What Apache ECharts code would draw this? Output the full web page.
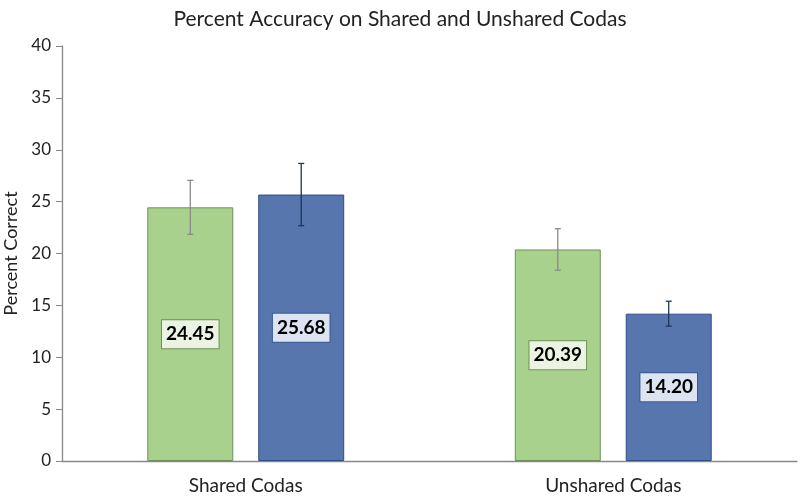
<!DOCTYPE html>
<html><head><meta charset="utf-8">
<script src="https://cdn.jsdelivr.net/npm/echarts@6/dist/echarts.min.js"></script>
<style>html,body{margin:0;padding:0;background:#fff}#c{width:800px;height:501px}</style>
</head><body><div id="c"></div>
<script>
const categories = ['Shared Codas', 'Unshared Codas'];
const greenValues = [24.45, 20.39];
const blueValues = [25.68, 14.20];
const greenErr = [2.6, 2.0];
const blueErr = [3.0, 1.2];
const yTicks = [0, 5, 10, 15, 20, 25, 30, 35, 40];

const FONT = 'Lato';
const BW = 0.234, GAP = 0.29;

function errSeries(vals, errs, sign, color) {
  return {
    type: 'custom',
    z: 5,
    data: vals.map((v, i) => [i, v - errs[i], v + errs[i]]),
    renderItem: function (params, api) {
      const band = api.size([1, 0])[0];
      const off = sign * band * BW * (1 + GAP) / 2;
      const lo = api.coord([api.value(0), api.value(1)]);
      const hi = api.coord([api.value(0), api.value(2)]);
      const x = lo[0] + off;
      const cw = 3;
      const st = { stroke: color, lineWidth: 1.3 };
      return {
        type: 'group',
        children: [
          { type: 'line', shape: { x1: x, y1: lo[1], x2: x, y2: hi[1] }, style: st },
          { type: 'line', shape: { x1: x - cw, y1: lo[1], x2: x + cw, y2: lo[1] }, style: st },
          { type: 'line', shape: { x1: x - cw, y1: hi[1], x2: x + cw, y2: hi[1] }, style: st }
        ]
      };
    }
  };
}

function barLabel(bg, border) {
  return {
    show: true, position: 'inside',
    formatter: p => p.value.toFixed(2),
    fontFamily: FONT, fontWeight: 'bold', fontSize: 19, color: '#000',
    backgroundColor: bg, borderColor: border, borderWidth: 1,
    padding: [5, 4, 4, 4]
  };
}

const chart = echarts.init(document.getElementById('c'));
chart.setOption({
  animation: false,
  title: {
    text: 'Percent Accuracy on Shared and Unshared Codas',
    left: 'center', top: 4,
    textStyle: { fontFamily: FONT, fontWeight: 'normal', fontSize: 21, color: '#222' }
  },
  grid: { left: 62, right: 3, top: 46, bottom: 40, containLabel: false, outerBoundsMode: 'none' },
  xAxis: {
    type: 'category', data: categories,
    axisLine: { lineStyle: { color: '#888', width: 1.3 } },
    axisTick: { show: false },
    axisLabel: { fontFamily: FONT, fontSize: 19, color: '#222', margin: 15 }
  },
  yAxis: {
    type: 'value', min: yTicks[0], max: yTicks[yTicks.length - 1], interval: 5,
    name: 'Percent Correct', nameLocation: 'middle', nameGap: 41,
    nameTextStyle: { fontFamily: FONT, fontSize: 18, color: '#222' },
    axisLine: { show: true, lineStyle: { color: '#888', width: 1.3 } },
    axisTick: { show: true, length: 6, lineStyle: { color: '#888' } },
    splitLine: { show: false },
    axisLabel: { fontFamily: FONT, fontSize: 17, color: '#222', margin: 11 }
  },
  series: [
    {
      type: 'bar', data: greenValues, barWidth: (BW * 100) + '%', barGap: (GAP * 100) + '%',
      itemStyle: { color: '#a9d18e', borderColor: '#6f9158', borderWidth: 1 },
      label: barLabel('#ebf4e3', '#6f9158')
    },
    {
      type: 'bar', data: blueValues, barWidth: (BW * 100) + '%',
      itemStyle: { color: '#5876ae', borderColor: '#2f4f85', borderWidth: 1 },
      label: barLabel('#dce4f2', '#3a5a90')
    },
    errSeries(greenValues, greenErr, -1, '#8a8a8a'),
    errSeries(blueValues, blueErr, 1, '#1f3458')
  ]
});
</script></body></html>
